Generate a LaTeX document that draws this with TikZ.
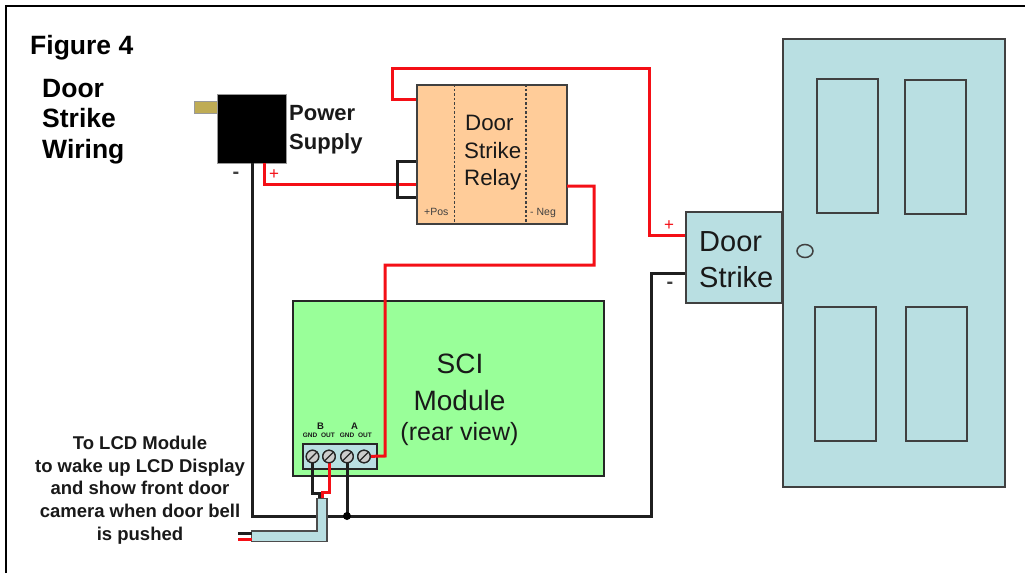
\documentclass[tikz,border=0pt]{standalone}
\usepackage{fontspec}
\usetikzlibrary{shapes.geometric}
\setmainfont{Liberation Sans}
\newcommand{\fs}[1]{\fontsize{#1}{#1}\selectfont}
\definecolor{doorc}{HTML}{B9DFE2}
\definecolor{wred}{HTML}{F40F16}
\definecolor{relayc}{HTML}{FFCC99}
\definecolor{scic}{HTML}{99FF99}
\definecolor{brass}{HTML}{BFAC55}
\tikzset{
  box/.style={draw=black!75,line width=2pt,rectangle,inner sep=0pt,anchor=north west},
  panel/.style={draw=black!70,line width=1.8pt,fill=doorc},
  wire/.style={line width=3pt,miter limit=10},
  redw/.style={wire,draw=wred},
  blkw/.style={wire,draw=black!88},
  lbl/.style={inner sep=0pt,align=center,text=black!90},
  lbll/.style={inner sep=0pt,align=left,text=black!90,anchor=base west},
  screw/.style={circle,draw=black!85,line width=1.3pt,fill=black!20,minimum size=12.5pt,inner sep=0pt},
}
\begin{document}
\begin{tikzpicture}[x=1pt,y=-1pt]
\useasboundingbox (0,0) rectangle (1025,573);
\fill[white] (0,0) rectangle (1025,573);
\coordinate (fa) at (6,573);
\coordinate (fb) at (6,6);
\coordinate (fc) at (1025,6);
\draw[line width=1.8pt,black] (fa) -- (fb) -- (fc);
% door
\node[box,fill=doorc,minimum width=222pt,minimum height=448pt] (door) at (781.5,37.5) {};
\node[box,minimum width=61pt,minimum height=134pt] (p1) at (816,78) {};
\node[box,minimum width=61pt,minimum height=134pt] (p2) at (904,79) {};
\node[box,minimum width=61pt,minimum height=134pt] (p3) at (814,306) {};
\node[box,minimum width=61pt,minimum height=134pt] (p4) at (905,306) {};
\node[ellipse,draw=black!75,line width=1.5pt,minimum width=16pt,minimum height=13pt,inner sep=0pt] (knob) at (805,251) {};
% strike
\node[box,fill=doorc,minimum width=96.5pt,minimum height=91.5pt] (strike) at (684.5,210.5) {};
\node[lbll,font=\fs{29}] (striketxt) at (699,251) {Door};
\node[lbll,font=\fs{29}] (striketxt2) at (699,287) {Strike};
% relay
\node[box,fill=relayc,minimum width=150.5pt,minimum height=139.5pt] (relay) at (415.5,83.5) {};
\coordinate (d1t) at (454.5,84); \coordinate (d1b) at (454.5,224);
\coordinate (d2t) at (526,84); \coordinate (d2b) at (526,224);
\draw[black!75,line width=1.1pt,dash pattern=on 2.5pt off 2pt] (d1t) -- (d1b);
\draw[black!75,line width=1.1pt,dash pattern=on 2.5pt off 2pt] (d2t) -- (d2b);
\node[lbll,font=\fs{22.3}] (r1) at (465,130.5) {Door};
\node[lbll,font=\fs{22.3}] (r2) at (464,158) {Strike};
\node[lbll,font=\fs{22.3}] (r3) at (464,185.5) {Relay};
\node[lbl,anchor=west,font=\fs{10.5},text=black!75] (pos) at (424,211.5) {+Pos};
\node[lbl,anchor=west,font=\fs{10.5},text=black!75] (neg) at (530,213) {- Neg};
% power
\node[draw=black!40,fill=brass,inner sep=0pt,minimum width=23pt,minimum height=12pt,line width=.4pt] (plug) at (206,107.5) {};
\node[box,draw=black!40,line width=.6pt,fill=black,minimum width=69pt,minimum height=69pt] (psu) at (216.5,93.5) {};
\node[lbll,font=\bfseries\fs{22}] (pt1) at (289,120) {Power};
\node[lbll,font=\bfseries\fs{22}] (pt2) at (289,149) {Supply};
\node[lbl,font=\bfseries\fs{20},text=black!75] (m1) at (236,175.5) {-};
\node[lbl,font=\fs{17},text=wred] (p1l) at (274,174.5) {+};
% sci
\node[box,fill=scic,draw=black!85,minimum width=311pt,minimum height=175.5pt] (sci) at (292,299.5) {};
\node[lbl,font=\fs{28}] (s1) at (460,364) {SCI};
\node[lbl,font=\fs{28}] (s2) at (459.5,400) {Module};
\node[lbl,font=\fs{25}] (s3) at (459.5,434) {(rear view)};
\node[lbl,font=\bfseries\fs{9.5}] (b) at (320.5,426) {B};
\node[lbl,font=\bfseries\fs{9.5}] (a) at (354.5,426) {A};
\node[lbl,font=\bfseries\fs{6.5}] (t1) at (310,435.5) {GND};
\node[lbl,font=\bfseries\fs{6.5}] (t2) at (328,435.5) {OUT};
\node[lbl,font=\bfseries\fs{6.5}] (t3) at (347,435.5) {GND};
\node[lbl,font=\bfseries\fs{6.5}] (t4) at (365,435.5) {OUT};
\node[box,fill=doorc,draw=black!85,minimum width=74pt,minimum height=25pt] (term) at (301.7,443) {};
\node[screw] (c1) at (312.5,456.5) {};
\node[screw] (c2) at (329,456.5) {};
\node[screw] (c3) at (347,456.5) {};
\node[screw] (c4) at (364,456.5) {};
% cable
\coordinate (jn) at (347,516);
\coordinate (ca) at (317,498.5);
\coordinate (cb) at (327,498.5);
\coordinate (cc) at (327,541.5);
\coordinate (cd) at (251.5,541.5);
\coordinate (ce) at (251.5,531);
\coordinate (cf) at (317,531);
\draw[blkw] (c1.center) -- (312.5,493) -- (319,493) -- (319,501);
\draw[redw] (c2.center) -- (329,492) -- (322.5,492) -- (322.5,498);
\draw[blkw] (252,178) -- (252,516) -- (317,516);
\draw[blkw] (cb |- jn) -- (jn) -- (651,516) -- (651,273.5) -- (strike.west |- 0,273.5);
\draw[blkw] (c3.center) -- (jn);
\fill[black] (jn) circle (4pt);
\draw[panel] (ca) -- (cb) -- (cc) -- (cd) -- (ce) -- (cf) -- cycle;
\coordinate (w1) at (238,533);
\coordinate (w2) at (238,539);
\draw[blkw] (w1) -- (ce |- w1);
\draw[redw] (w2) -- (ce |- w2);
% wires
\draw[blkw] (252,163) -- (252,178);
\draw[redw] (264,163) -- (264,184) -- (416,184);
\draw[blkw] (416,161) -- (397,161) -- (397,197) -- (416,197);
\draw[redw] (416,99) -- (392,99) -- (392,68.5) -- (649,68.5) -- (649,235) -- (685,235);
\draw[redw] (567,186) -- (594,186) -- (594,265) -- (385,265) -- (385,456) -- (c4.center);
\node[screw] at (c4) {};
\node[screw] at (c3) {};
\node[screw] at (c2) {};
\node[screw] at (c1) {};
\foreach \n in {c1,c2,c3,c4}{\draw[black!85,line width=1.2pt] (\n.south west) -- (\n.north east);}
\node[lbl,font=\fs{17},text=wred] (plus) at (669,225.5) {+};
\node[lbl,font=\bfseries\fs{20},text=black!75] (minus) at (670,285.5) {-};
% text
\node[lbll,font=\bfseries\fs{26.5},text=black] (fig) at (30,54) {Figure 4};
\node[lbll,font=\bfseries\fs{26.5},text=black] (dw1) at (42,97) {Door};
\node[lbll,font=\bfseries\fs{26.5},text=black] (dw2) at (42,127.5) {Strike};
\node[lbll,font=\bfseries\fs{26.5},text=black] (dw3) at (42,158) {Wiring};
\node[lbl,anchor=base,font=\bfseries\fs{18.5}] (n1) at (140,449.5) {To LCD Module};
\node[lbl,anchor=base,font=\bfseries\fs{18.5}] (n2) at (140,472) {to wake up LCD Display};
\node[lbl,anchor=base,font=\bfseries\fs{18.5}] (n3) at (140,494) {and show front door};
\node[lbl,anchor=base,font=\bfseries\fs{18.5}] (n4) at (140,517) {camera when door bell};
\node[lbl,anchor=base,font=\bfseries\fs{18.5}] (n5) at (140,540) {is pushed};
\end{tikzpicture}
\end{document}
